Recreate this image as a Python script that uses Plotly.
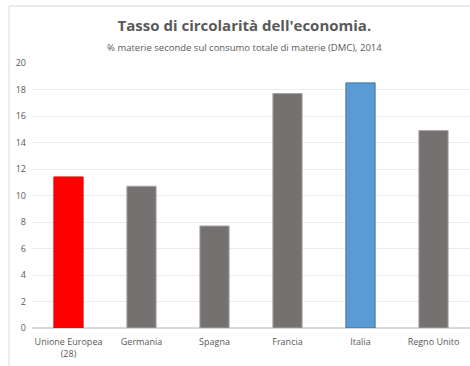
import plotly.graph_objects as go

categories = ["Unione Europea<br>(28)", "Germania", "Spagna", "Francia", "Italia", "Regno Unito"]
values = [11.4, 10.7, 7.7, 17.7, 18.5, 14.9]
colors = ["#ff0000", "#767171", "#767171", "#767171", "#5b9bd5", "#767171"]
line_colors = ["#e60000", "#a6a6a6", "#a6a6a6", "#a6a6a6", "#41719c", "#a6a6a6"]
y_ticks = [0, 2, 4, 6, 8, 10, 12, 14, 16, 18, 20]

W, H = 470, 366
L, R, T, B = 32, 0, 63, 38

fig = go.Figure(go.Bar(
    x=categories, y=values,
    marker=dict(color=colors, line=dict(color=line_colors, width=1)),
    width=0.4,
))

fig.update_layout(
    width=W, height=H,
    margin=dict(l=L, r=R, t=T, b=B),
    paper_bgcolor="white", plot_bgcolor="white",
    showlegend=False,
    font=dict(family="Open Sans", color="#595959", size=9),
    title=dict(
        text="<b>Tasso di circolarità dell'economia.</b><br><span style='font-size:9.5px'>% materie seconde sul consumo totale di materie (DMC), 2014</span>",
        x=0.52, xanchor="center", y=1 - 31 / H, yanchor="middle",
        font=dict(size=15, color="#595959"),
    ),
    xaxis=dict(showgrid=False, showline=False, ticks="", ticklabelstandoff=7,
               tickfont=dict(size=9, color="#595959")),
    yaxis=dict(range=[0, 20], tickvals=y_ticks, showgrid=True, gridcolor="#ebebeb",
               gridwidth=1, zeroline=True, zerolinecolor="#d9d9d9", showline=False,
               ticks="", ticklabelstandoff=5, tickfont=dict(size=9, color="#595959")),
    shapes=[
        dict(type="line", xref="paper", yref="paper",
             x0=(9 - L) / (W - L - R), x1=1.05,
             y0=1 + (T - 6) / (H - T - B),
             y1=1 + (T - 6) / (H - T - B), line=dict(color="#d9d9d9", width=1)),
        dict(type="line", xref="paper", yref="paper",
             x0=(9 - L) / (W - L - R), x1=(9 - L) / (W - L - R),
             y0=-B / (H - T - B), y1=1 + (T - 6) / (H - T - B),
             line=dict(color="#d9d9d9", width=1)),
    ],
)

fig.write_html("out.html")
